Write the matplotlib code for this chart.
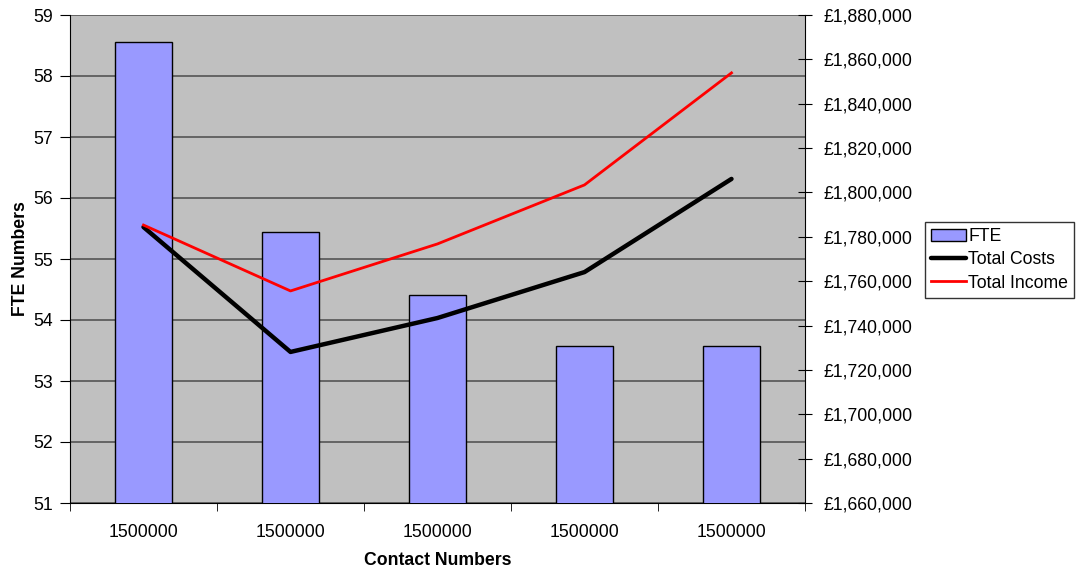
import numpy as np
import matplotlib
matplotlib.use("Agg")
import matplotlib.pyplot as plt
from matplotlib.ticker import FuncFormatter, FixedLocator

# data
categories = ["1500000", "1500000", "1500000", "1500000", "1500000"]
fte = [58.56, 55.44, 54.41, 53.57, 53.57]
total_costs = [1784400, 1728100, 1743400, 1764100, 1806100]
total_income = [1785300, 1755600, 1776800, 1803400, 1853900]

plt.rcParams["font.family"] = ["Liberation Sans", "DejaVu Sans"]
FS = 12.7

fig = plt.figure(figsize=(10.8, 5.74), dpi=100)
ax = fig.add_axes([70 / 1080, 71 / 574, 735 / 1080, 488 / 574])
ax.set_facecolor("#c0c0c0")
x = np.arange(len(categories))

bars = ax.bar(x, fte, width=0.39, bottom=0, color="#9999ff", edgecolor="black",
              linewidth=1, label="FTE", zorder=3)
ax.set_ylim(51, 59)
ax.set_xlim(-0.5, len(categories) - 0.5)
ax.set_yticks(np.arange(51, 60, 1))
ax.yaxis.grid(True, color="#555555", linewidth=1.2, zorder=1)
ax.set_axisbelow(True)

# category labels at centres, tick marks at boundaries
ax.set_xticks(x)
ax.set_xticklabels(categories)
ax.tick_params(axis="x", length=0, pad=15, labelsize=FS)
ax.xaxis.set_minor_locator(FixedLocator(np.arange(-0.5, len(categories), 1)))
ax.tick_params(axis="x", which="minor", length=6, direction="out")
ax.tick_params(axis="y", length=7, direction="out", labelsize=FS, pad=5)

ax.set_xlabel("Contact Numbers", fontsize=FS, fontweight="bold", labelpad=8)
ax.set_ylabel("FTE Numbers", fontsize=FS, fontweight="bold", labelpad=3)

ax2 = ax.twinx()
l1, = ax2.plot(x, total_costs, color="black", linewidth=3.2, label="Total Costs",
               solid_capstyle="round", zorder=4)
l2, = ax2.plot(x, total_income, color="red", linewidth=2, label="Total Income", zorder=4)
ax2.set_ylim(1660000, 1880000)
ax2.set_yticks(np.arange(1660000, 1880001, 20000))
ax2.yaxis.set_major_formatter(FuncFormatter(lambda v, p: f"£{v:,.0f}"))
ax2.tick_params(axis="y", length=10, direction="inout", labelsize=FS, pad=8)

for a in (ax, ax2):
    for s in a.spines.values():
        s.set_visible(False)
ax.spines["left"].set_visible(True)
ax.spines["bottom"].set_visible(True)
ax2.spines["right"].set_visible(True)

leg = fig.legend([bars, l1, l2], ["FTE", "Total Costs", "Total Income"],
                 loc="upper left", bbox_to_anchor=(925 / 1080, 1 - 222 / 574),
                 frameon=True, fancybox=False, edgecolor="black", fontsize=FS,
                 handlelength=2.0, handletextpad=0.1, borderpad=0.35,
                 labelspacing=0.35, borderaxespad=0)
leg.get_frame().set_linewidth(1)

fig.savefig("out.png", dpi=100)
